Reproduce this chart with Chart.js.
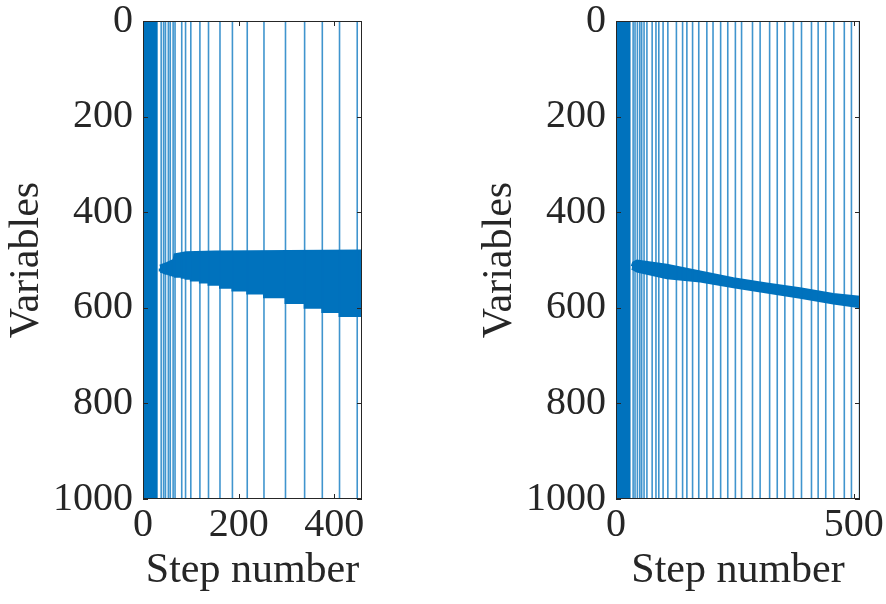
<!DOCTYPE html>
<html>
<head>
<meta charset="utf-8">
<script src="https://cdn.jsdelivr.net/npm/chart.js@4.4.1/dist/chart.umd.min.js"></script>
<style>
  body { margin: 0; background: #fff; }
  .panel { position: absolute; top: 0; width: 443px; height: 604px; }
</style>
</head>
<body>
<div class="panel" style="left:0"><canvas id="izq" width="443" height="604"></canvas></div>
<div class="panel" style="left:443px"><canvas id="der" width="443" height="604"></canvas></div>
<script>
// ---- datos panel izquierdo ----
const maxPasoIzq = 458;
const ticksXIzq = [0, 200, 400];
const bloqueIzq = [0, 31];
const lineasIzq = [38, 43, 47, 53, 57, 63, 67, 81, 89, 100, 119, 137, 161, 187, 218, 253, 298, 338, 375, 411, 448];
const supIzqPasos = [35, 50, 64, 66, 90, 150, 458];
const supIzqVars = [512, 506, 500, 488, 484, 482, 480];
const infIzqPasos = [35, 38, 43, 47, 53, 57, 63, 67, 81, 89, 100, 119, 137, 161, 187, 218, 253, 298, 338, 375, 411, 448, 458];
const infIzqVars = [518, 522, 525, 527, 529, 530, 532, 533, 535, 537, 539, 543, 547, 552, 558, 564, 570, 578, 590, 600, 609, 617, 617];
// huecos blancos dentro de la banda
const huecoIzqPasos = [70, 100, 140, 175, 205];
const huecoIzqVars = [500, 508, 516, 527, 533];

// ---- datos panel derecho ----
const maxPasoDer = 513;
const ticksXDer = [0, 500];
const bloqueDer = [0, 31];
const lineasDer = [36, 40, 45, 50, 54, 59, 65, 76, 84, 90, 99, 109, 127, 140, 149, 161, 174, 191, 204, 220, 235, 251, 264, 287, 303, 323, 339, 355, 373, 390, 411, 425, 441, 458, 480, 495, 512];
const supDerPasos = [33, 36, 44, 107, 177, 247, 317, 387, 457, 513];
const supDerVars = [513, 505, 501, 510, 524, 538, 549, 559, 571, 577];
const infDerPasos = [33, 44, 107, 177, 247, 317, 387, 457, 513];
const infDerVars = [518, 524, 538, 545, 557, 568, 579, 591, 599];

const ticksY = [0, 200, 400, 600, 800, 1000];

const azul = "#0072BD";
const texto = "#262626";
const fuente = "'Liberation Serif', 'Times New Roman', serif";

const marco = {
  id: "marco",
  afterDraw(chart) {
    const { ctx, chartArea: a, scales } = chart;
    ctx.save();
    ctx.strokeStyle = texto;
    ctx.lineWidth = 1;
    ctx.strokeRect(Math.round(a.left) + 0.5, Math.round(a.top) + 0.5,
      Math.round(a.right - a.left) - 1, Math.round(a.bottom - a.top) - 1);
    const largo = 5;
    ctx.beginPath();
    scales.x.ticks.forEach(t => {
      const px = Math.round(scales.x.getPixelForValue(t.value)) + 0.5;
      ctx.moveTo(px, a.bottom); ctx.lineTo(px, a.bottom - largo);
      ctx.moveTo(px, a.top); ctx.lineTo(px, a.top + largo);
    });
    scales.y.ticks.forEach(t => {
      const py = Math.round(scales.y.getPixelForValue(t.value)) + 0.5;
      ctx.moveTo(a.left, py); ctx.lineTo(a.left + largo, py);
      ctx.moveTo(a.right, py); ctx.lineTo(a.right - largo, py);
    });
    ctx.stroke();
    ctx.restore();
  }
};

function lineasVerticales(pasos) {
  const datos = [];
  pasos.forEach(p => {
    datos.push({ x: p, y: 0 }, { x: p, y: 1000 }, { x: p, y: null });
  });
  return datos;
}

function puntos(xs, ys) {
  return xs.map((x, i) => ({ x: x, y: ys[i] }));
}

function crearGrafico(id, maxPaso, ticksX, bloque, lineas, supP, supV, infP, infV, escalonado, hueco, padding) {
  const datasets = [
    {
      data: puntos(bloque, [1000, 1000]),
      borderColor: azul,
      borderWidth: 1,
      backgroundColor: azul,
      fill: { value: 0 },
      pointRadius: 0,
    },
    {
      data: lineasVerticales(lineas),
      borderColor: "rgba(0, 114, 189, 0.75)",
      borderWidth: 1.6,
      fill: false,
      pointRadius: 0,
      spanGaps: false,
    },
    {
      data: puntos(supP, supV),
      borderColor: azul,
      borderWidth: 2,
      backgroundColor: azul,
      fill: "+1",
      pointRadius: 0,
    },
    {
      data: puntos(infP, infV),
      borderColor: azul,
      borderWidth: 2,
      fill: false,
      stepped: escalonado,
      pointRadius: 0,
    },
  ];
  if (hueco) {
    datasets.push({
      data: puntos(hueco[0], hueco[1]),
      borderColor: "rgba(255, 255, 255, 0.7)",
      borderWidth: 1.2,
      borderDash: [12, 9],
      fill: false,
      pointRadius: 0,
    });
  }

  new Chart(document.getElementById(id), {
    type: "line",
    data: { datasets: datasets },
    options: {
      responsive: false,
      animation: false,
      devicePixelRatio: 1,
      layout: { padding: padding },
      plugins: { legend: { display: false }, tooltip: { enabled: false } },
      scales: {
        x: {
          type: "linear",
          min: 0,
          max: maxPaso,
          afterBuildTicks: s => { s.ticks = ticksX.map(v => ({ value: v })); },
          afterFit: s => { s.height = 105; s.paddingLeft = 0; s.paddingRight = 0; },
          grid: { display: false, drawTicks: false },
          border: { display: false },
          ticks: { color: texto, font: { family: fuente, size: 40 }, padding: 2, maxRotation: 0, callback: v => String(v) },
          title: { display: true, text: "Step number", color: texto, font: { family: fuente, size: 42 }, padding: { top: 0, bottom: 8 } },
        },
        y: {
          reverse: true,
          min: 0,
          max: 1000,
          afterBuildTicks: s => { s.ticks = ticksY.map(v => ({ value: v })); },
          afterFit: s => { s.width = 143; s.paddingTop = 0; s.paddingBottom = 0; },
          grid: { display: false, drawTicks: false },
          border: { display: false },
          ticks: { color: texto, font: { family: fuente, size: 40 }, padding: 10, callback: v => String(v) },
          title: { display: true, text: "Variables", color: texto, font: { family: fuente, size: 42 }, padding: { top: 2, bottom: 0 } },
        },
      },
    },
    plugins: [marco],
  });
}

crearGrafico("izq", maxPasoIzq, ticksXIzq, bloqueIzq, lineasIzq, supIzqPasos, supIzqVars, infIzqPasos, infIzqVars, "after", [huecoIzqPasos, huecoIzqVars], { left: 0, right: 81, top: 21, bottom: 0 });
crearGrafico("der", maxPasoDer, ticksXDer, bloqueDer, lineasDer, supDerPasos, supDerVars, infDerPasos, infDerVars, false, null, { left: 30, right: 26, top: 21, bottom: 0 });
</script>
</body>
</html>
